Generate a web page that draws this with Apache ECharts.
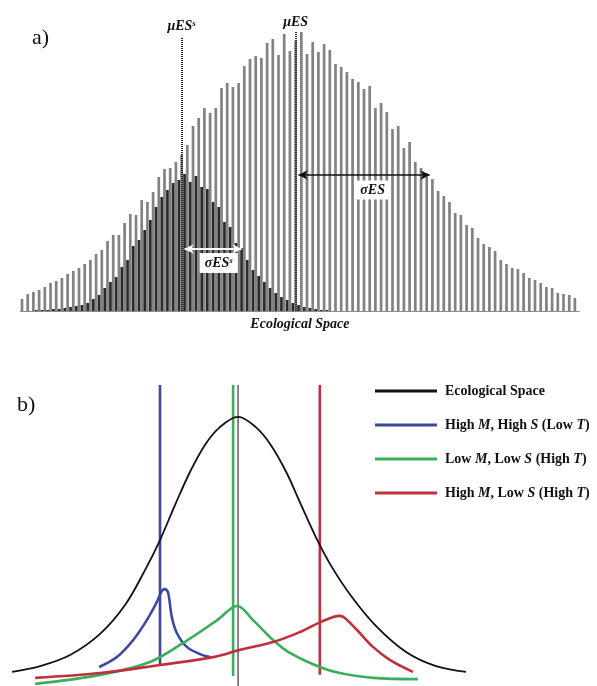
<!DOCTYPE html>
<html><head><meta charset="utf-8">
<script src="https://cdn.jsdelivr.net/npm/echarts@6/dist/echarts.min.js"></script>
<style>html,body{margin:0;padding:0;background:#fff}#c{width:597px;height:686px}</style>
</head><body><div id="c"></div>
<script>
// ---------- Panel a) data ----------
const lightValues = [12,17,19,21,24,28,30,33,37,40,
  43,47,51,57,61,70,76,76,88,97,
  96,111,109,119,134,142,143,149,156,166,
  185,193,203,198,203,223,228,224,228,245,
  252,255,253,268,272,256,277,260,270,279,
  257,269,259,267,261,247,244,239,232,229,
  222,225,203,208,199,182,185,163,169,149,
  143,138,132,120,115,109,98,96,86,83,
  73,67,64,60,51,47,43,42,38,33,
  31,28,24,23,18,17,16,13];
const darkValues = [0,0,1,1,1,2,2,3,4,5,
  6,8,12,16,23,29,34,44,51,65,
  71,81,91,104,114,121,128,131,137,129,
  135,124,122,109,104,89,84,68,63,51,
  41,35,29,23,18,14,11,8,6,4,
  3,2,1,1,0,0,0,0,0,0,
  0,0,0,0,0,0,0,0,0,0,
  0,0,0,0,0,0,0,0,0,0,
  0,0,0,0,0,0,0,0,0,0,
  0,0,0,0,0,0,0,0];
const bins = lightValues.map((_, i) => 'b' + (i + 1));
const muSpeciesBin = 28, muSpeciesTop = 274;
const muCommunityBin = 48, muCommunityTop = 279;
const sigmaCommEndBin = 71, sigmaCommLevel = 136;
const sigmaSpecEndBin = 38, sigmaSpecLevel = 62;
const sigmaCommLabelBin = 61, sigmaCommLabelLevel = 121;
const sigmaSpecLabelBin = 34, sigmaSpecLabelLevel = 48;

// ---------- Panel b) data ----------
const legendNames = ['Ecological Space', 'High M, High S (Low T)', 'Low M, Low S (High T)', 'High M, Low S (High T)'];
const blackX = [0,6.2,12.8,19.4,24.9,29.3,32.6,35.9,39.2,42.5,45.8,49.8,53.7,57.0,60.4,63.7,67.0,70.3,74.7,80.2,86.8,93.4,100];
const blackY = [4.7,6.6,10.3,17.3,26.9,38.5,48.5,60.1,71.1,80.1,86.0,89.4,86.0,80.1,71.1,60.1,49.2,39.9,29.9,19.9,11.3,6.6,4.7];
const blueX = [19.2,23.1,26.7,29.7,31.9,33.0,33.7,34.4,35.2,36.3,38.5,41.4,43.6];
const blueY = [6.3,9.6,15.3,21.9,27.9,31.6,32.2,30.9,22.9,17.6,13.0,10.6,9.6];
const greenX = [5.1,19.4,30.4,37.7,45.2,49.6,53.1,57.5,61.2,67.8,72.2,79.5,89.4];
const greenY = [0.7,3.7,8.0,14.3,21.9,26.6,21.9,15.3,11.0,6.3,4.3,2.7,2.3];
const redX = [5.1,19.4,32.6,44.3,50.2,57.5,63.4,68.1,72.2,73.3,76.0,79.5,83.3,88.3];
const redY = [2.7,4.3,7.0,9.6,12.0,14.6,17.9,21.3,23.3,22.6,18.6,13.0,8.6,4.7];
const optimaX = [32.6, 48.7, 67.8];      // blue, green, red vertical lines
const optimaBottom = [7.0, 3.3, 3.7];
const spaceMeanX = 49.8;

const colors = ['#111111', '#3a48a4', '#3aae5a', '#c0303c'];
const serif = '"Liberation Serif", "DejaVu Serif", serif';

const zip = (xs, ys) => xs.map((x, i) => [x, ys[i]]);
const curves = [zip(blackX, blackY), zip(blueX, blueY), zip(greenX, greenY), zip(redX, redY)];

const lblStyle = {
  t: {fontFamily: serif, fontWeight: 'bold', fontStyle: 'italic', fontSize: 14, color: '#111'},
  s: {fontFamily: serif, fontWeight: 'bold', fontStyle: 'italic', fontSize: 9, color: '#111', verticalAlign: 'top', padding: [0, 0, 6, 0]}
};

const series = [
  {
    type: 'bar', xAxisIndex: 0, yAxisIndex: 0, data: lightValues, barWidth: 2.7, barGap: '9%',
    itemStyle: {color: '#828282'}, silent: true,
    markLine: {
      silent: true, symbol: 'none', animation: false,
      lineStyle: {color: '#222', width: 2, type: [1, 1]},
      label: {show: true, position: 'end', distance: 3, rich: lblStyle},
      data: [
        [{xAxis: bins[muSpeciesBin], yAxis: 0, label: {formatter: '{t|μES}{s|s}'}}, {xAxis: bins[muSpeciesBin], yAxis: muSpeciesTop}],
        [{xAxis: bins[muCommunityBin], yAxis: 0, label: {formatter: '{t|μES}'}}, {xAxis: bins[muCommunityBin], yAxis: muCommunityTop}]
      ]
    }
  },
  {
    type: 'bar', xAxisIndex: 0, yAxisIndex: 0, data: darkValues, barWidth: 2.7,
    itemStyle: {color: '#2a2a2a'}, silent: true, z: 3,
    markLine: {
      silent: true, symbol: ['arrow', 'arrow'], symbolSize: [7, 9], animation: false,
      label: {show: false},
      data: [
        [{coord: [bins[muCommunityBin], sigmaCommLevel], lineStyle: {color: '#111', width: 1.6, type: 'solid'}},
         {coord: [bins[sigmaCommEndBin], sigmaCommLevel]}],
        [{coord: [bins[muSpeciesBin], sigmaSpecLevel], lineStyle: {color: '#fff', width: 2, type: 'solid'}},
         {coord: [bins[sigmaSpecEndBin], sigmaSpecLevel]}]
      ]
    },
    markPoint: {
      silent: true, symbol: 'rect', symbolSize: 0, animation: false,
      label: {show: true, position: 'inside', backgroundColor: '#fff', padding: [3, 5, 2, 5], rich: lblStyle},
      data: [
        {coord: [bins[sigmaCommLabelBin], sigmaCommLabelLevel], label: {formatter: '{t|σES}'}},
        {coord: [bins[sigmaSpecLabelBin], sigmaSpecLabelLevel], label: {formatter: '{t|σES}{s|s}'}}
      ]
    }
  }
];

// vertical optimum lines (drawn first so curves lie on top)
[1, 2, 3].forEach((k, j) => {
  series.push({
    type: 'line', name: legendNames[k], xAxisIndex: 1, yAxisIndex: 1,
    data: [[optimaX[j], optimaBottom[j]], [optimaX[j], 100]],
    symbol: 'none', lineStyle: {color: colors[k], width: 2.6}, itemStyle: {color: colors[k]}, silent: true
  });
});
series.push({
  type: 'line', name: 'mean', xAxisIndex: 1, yAxisIndex: 1,
  data: [[spaceMeanX, 0], [spaceMeanX, 100]],
  symbol: 'none', lineStyle: {color: '#6a6a6a', width: 1.6}, silent: true
});
curves.forEach((d, k) => {
  series.push({
    type: 'line', name: legendNames[k], xAxisIndex: 1, yAxisIndex: 1, data: d,
    smooth: 0.35, symbol: 'none',
    lineStyle: {color: colors[k], width: k === 0 ? 1.8 : 2.6}, itemStyle: {color: colors[k]}, silent: true, z: 3
  });
});

const option = {
  animation: false,
  backgroundColor: '#fff',
  grid: [
    {left: 20.625, top: 32, width: 558.6, height: 279},
    {left: 12, top: 385, width: 454, height: 301}
  ],
  xAxis: [
    {gridIndex: 0, type: 'category', data: bins, boundaryGap: true,
     axisLine: {lineStyle: {color: '#8c8c8c', width: 1.2}}, axisTick: {show: false}, axisLabel: {show: false},
     splitLine: {show: false},
     name: 'Ecological Space', nameLocation: 'middle', nameGap: 6,
     nameTextStyle: {fontFamily: serif, fontWeight: 'bold', fontStyle: 'italic', fontSize: 14, color: '#111'}},
    {gridIndex: 1, type: 'value', min: 0, max: 100, show: false}
  ],
  yAxis: [
    {gridIndex: 0, type: 'value', min: 0, max: 279, show: false},
    {gridIndex: 1, type: 'value', min: 0, max: 100, show: false}
  ],
  legend: {
    data: legendNames, orient: 'vertical', left: 370, top: 378,
    itemWidth: 62, itemHeight: 3, itemGap: 18, icon: 'rect', selectedMode: false,
    formatter: n => n.replace(/\b([MST])\b/g, '{i|$1}'),
    textStyle: {fontFamily: serif, fontWeight: 'bold', fontSize: 14, color: '#111', lineHeight: 16, padding: [0, 0, 0, 3],
      rich: {i: {fontFamily: serif, fontWeight: 'bold', fontStyle: 'italic', fontSize: 14, color: '#111'}}}
  },
  graphic: [
    {type: 'text', left: 32, top: 27, style: {text: 'a)', font: '22px "Liberation Serif"', fill: '#111'}},
    {type: 'text', left: 17, top: 394, style: {text: 'b)', font: '22px "Liberation Serif"', fill: '#111'}}
  ],
  series: series
};
const chart = echarts.init(document.getElementById('c'), null, {renderer: 'canvas'});
chart.setOption(option);
</script>
</body></html>
